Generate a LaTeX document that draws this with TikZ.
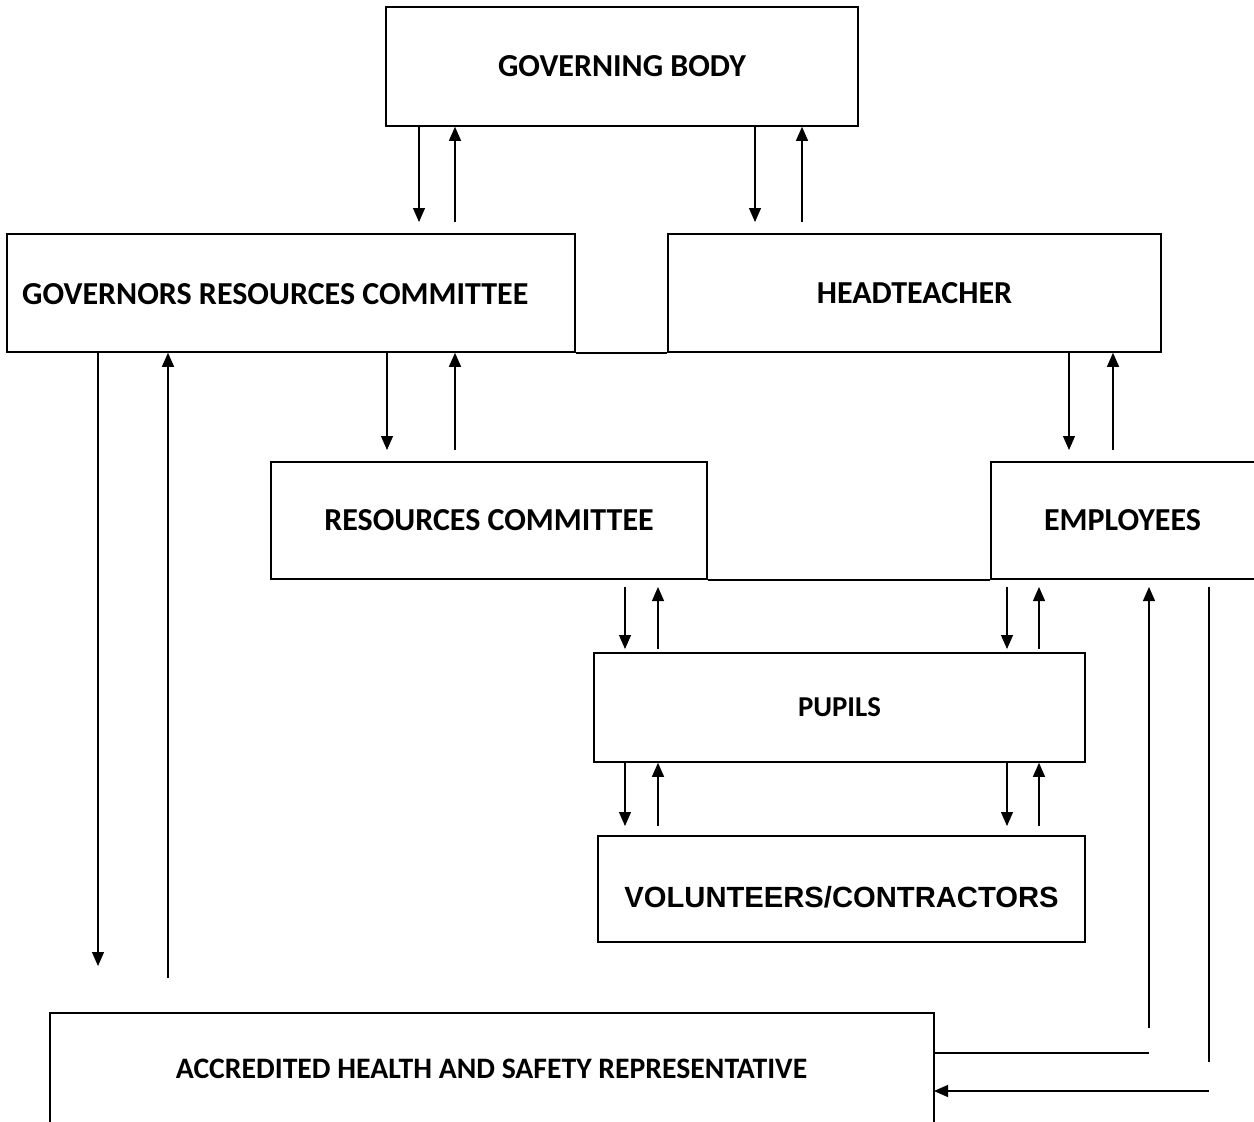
\documentclass[tikz,border=0pt]{standalone}
\usepackage{fontspec}
\setmainfont{Carlito}
\newfontfamily\arialfont{Liberation Sans}
\usetikzlibrary{arrows.meta}
\tikzset{
  box/.style={draw, line width=1.6pt, inner sep=0pt, font=\fontsize{32}{36}\selectfont\bfseries},
  arr/.style={line width=1.2pt, -{Triangle[width=12pt,length=14pt]}},
  ln/.style={line width=1.2pt},
}
\begin{document}
\begin{tikzpicture}[x=1pt,y=-1pt]
\useasboundingbox (0,0) rectangle (1254,1122);
\clip (0,0) rectangle (1254,1122);
\node[box, minimum width=472, minimum height=119] (gb) at (622,66.5) {GOVERNING BODY};
\node[box, minimum width=568, minimum height=118] (grc) at (291,293) {};
\node[font=\fontsize{32}{36}\selectfont\bfseries, anchor=west, inner sep=0pt] (grct) at (22,294) {GOVERNORS RESOURCES COMMITTEE};
\node[box, minimum width=493, minimum height=118] (ht) at (914.5,293) {HEADTEACHER};
\node[box, minimum width=436, minimum height=117] (rc) at (489,520.5) {RESOURCES COMMITTEE};
\node[box, minimum width=300, minimum height=117] (emp) at (1141,520.5) {\hspace*{-37pt}EMPLOYEES};
\node[box, minimum width=491, minimum height=109, font=\fontsize{28.8}{32}\selectfont\bfseries] (pup) at (839.5,707.5) {PUPILS};
\node[box, minimum width=487, minimum height=106,
  label={[font=\fontsize{29.2}{34}\selectfont\arialfont\bfseries, yshift=-8pt]center:VOLUNTEERS/CONTRACTORS}] (vol) at (841.5,889) {};
\node[box, minimum width=884, minimum height=160] (ahs) at (492,1093) {};
\node[font=\fontsize{29.7}{34}\selectfont\bfseries, inner sep=0pt] (ahst) at (491.5,1069) {ACCREDITED HEALTH AND SAFETY REPRESENTATIVE};
% joining edges
\draw[line width=1.6pt] (grc.south east) -- (ht.south west);
\draw[line width=1.6pt] (rc.south east) -- (emp.south west);
% GB <-> GRC, HT
\draw[arr] (419,0 |- gb.south) -- (419,222);
\draw[arr] (455,222) -- (455,0 |- gb.south);
\draw[arr] (755,0 |- gb.south) -- (755,222);
\draw[arr] (802,222) -- (802,0 |- gb.south);
% GRC <-> AHS
\draw[arr] (98,0 |- grc.south) -- (98,966);
\draw[arr] (168,978) -- (168,0 |- grc.south);
% GRC <-> RC
\draw[arr] (387,0 |- grc.south) -- (387,450);
\draw[arr] (455,450) -- (455,0 |- grc.south);
% HT <-> EMP
\draw[arr] (1069,0 |- ht.south) -- (1069,450);
\draw[arr] (1113,450) -- (1113,0 |- ht.south);
% RC, EMP <-> PUP
\draw[arr] (625,587) -- (625,649);
\draw[arr] (658,649) -- (658,587);
\draw[arr] (1007,587) -- (1007,649);
\draw[arr] (1039,649) -- (1039,587);
% PUP <-> VOL
\draw[arr] (625,0 |- pup.south) -- (625,826);
\draw[arr] (658,826) -- (658,0 |- pup.south);
\draw[arr] (1007,0 |- pup.south) -- (1007,826);
\draw[arr] (1039,826) -- (1039,0 |- pup.south);
% EMP <-> AHS
\coordinate (c1) at (1149,1053);
\coordinate (c2) at (1149,1028);
\coordinate (c3) at (1209,1062);
\coordinate (c4) at (1209,1091);
\draw[ln] (934,0 |- c1) -- (c1);
\draw[arr] (c2) -- (1149,587);
\draw[ln] (1209,587) -- (c3);
\draw[arr] (c4) -- (934,0 |- c4);
\end{tikzpicture}
\end{document}
